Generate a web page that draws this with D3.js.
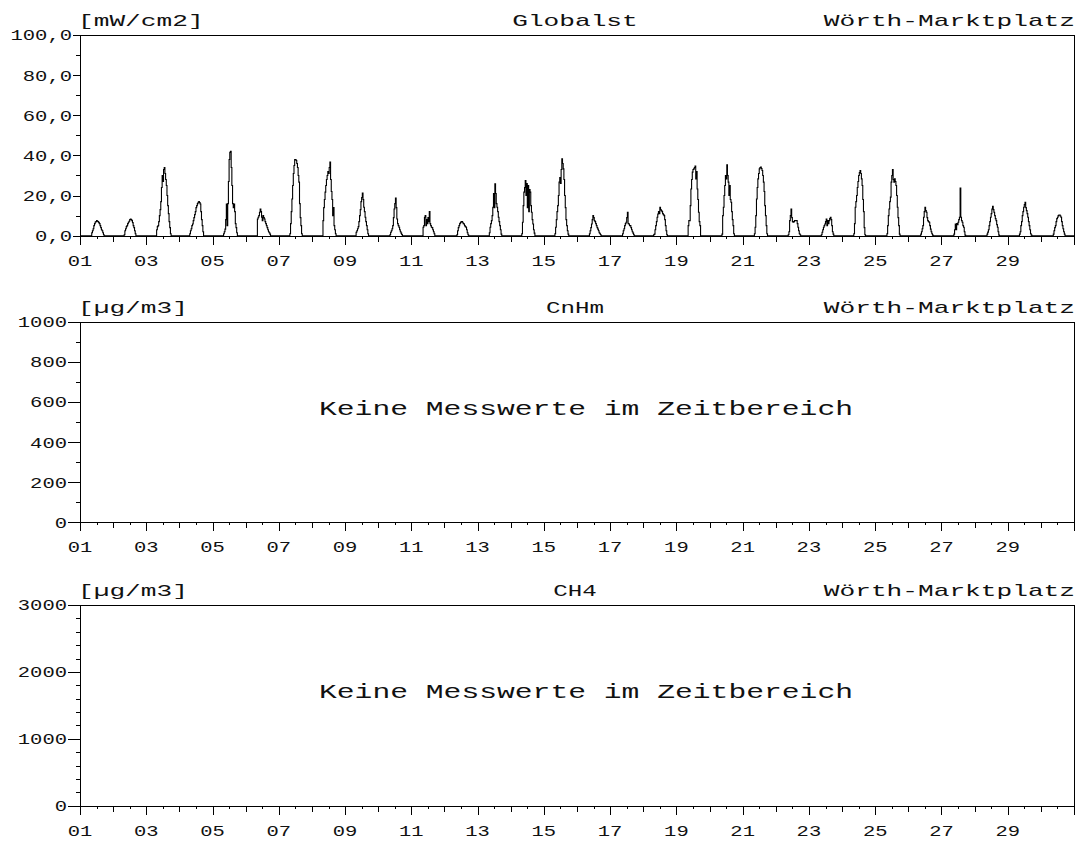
<!DOCTYPE html>
<html>
<head>
<meta charset="utf-8">
<script src="https://cdn.jsdelivr.net/npm/d3@7/dist/d3.min.js"></script>
<style>
  html, body { margin: 0; padding: 0; background: #fff; }
  svg { display: block; }
  text { font-family: "Liberation Mono", "DejaVu Sans Mono", monospace; fill: #111; }
</style>
</head>
<body>
<svg id="chart" width="1081" height="846"></svg>
<script>
// Day-of-month labels on the time axis (every second day)
const dayLabels = ["01","03","05","07","09","11","13","15","17","19","21","23","25","27","29"];
const daysInMonth = 30;
const station = "Wörth-Marktplatz";
const noDataText = "Keine Messwerte im Zeitbereich";

// Panel titles, units and value ranges
const titles = ["Globalst", "CnHm", "CH4"];
const units = ["[mW/cm2]", "[µg/m3]", "[µg/m3]"];
const yMax = [100, 1000, 3000];
const yMajor = [20, 200, 1000];
const yMinor = [10, 100, 200];

// Global radiation, half-hourly means in mW/cm2 from 07:30 onwards, one row per day
const globalStartHour = 7.5;
const globalst = [
  [0,0,1.5,2.5,3.5,5,6,6.8,7,7.5,7.2,7,6.5,6,5,4,3,2.5,1.5,0.5,0,0],
  [0,0.5,2.5,3.5,4.5,5,6,6.7,7.2,8,8.3,8,7.5,6.5,5,4,2.5,1,0,0,0,0],
  [3,4.5,5,7,10,13,17,24,30,27,33,34,31,28,25,20,15,11,7,4,1,0],
  [1,2.5,3.5,5,5.8,7.5,9,10.5,12,14,15,16,16.7,17,16.5,15.8,12,8,5,2,0,0],
  [0,1,2,3.3,8,15.8,5,16,27,38,41.5,42,34,25,16,14,15.8,12,6,4,1.5,0],
  [0,0,8.3,9.2,10,11.7,13.3,12,9.2,7.5,10,9,8.3,7,6,5,4,3,2,1.5,0.8,0],
  [0,1,6,12,18.3,25,31,35,38,38,37.5,36,34,30,26.7,16,9,5,1,0,0,0],
  [0,7.5,14,18,21.7,25,28,30,32,31,34,36.7,28,22,18,10,14,5,3,1,0,0],
  [0,1.7,2.5,3.5,4.5,7,10,13,17,19,21.3,18,14.2,12,9.2,7,5,3,1,0,0,0],
  [0,0,0.5,1.7,2.5,3.5,5,9,13.3,16,18.7,14,8.3,6,5,4.2,3,2,1.3,0.6,0,0],
  [0,0,4.2,5,9.2,10,5,8,6,9,7,12,6,5,4.2,4,3,2,1,0,0,0],
  [0,0,0,0.5,2.5,4,5,6,6.5,7,7,6.7,6,5.8,5,4.5,4.2,3,1.5,0.5,0,0],
  [0,0,1.5,4.2,6,7.5,10,14.2,21,14,25.8,21,16,14.2,12,9.2,7,5,3,0.8,0,0],
  [0,1,6.7,15,21.7,24,27.5,20,26,14,25,12,23,21.7,15,11.7,8,5.8,3,1.3,0,0],
  [0,1,4.2,8,12,15,20,26.7,29,26,33,38.3,36,33.3,28,20,14,8,5,2.5,0.8,0],
  [0,0,0,1,2.5,4,5.8,8,10,9,7.5,7,6,5,4,3.3,2.5,1.5,1,0.5,0,0],
  [0,0,0,1,2.5,3.5,5,6,6.7,9,11.7,6,5.8,5,5,4,3,2,1.3,0.5,0,0],
  [0.5,0.8,3,5,7,9.2,10.8,12,11,14.2,13,12.5,12,11,10.5,10,8,5,2.5,0.5,0,0],
  [0,0,5,7.5,7.5,15,23.3,28,31.7,33,33.3,34,34.7,28.3,32,23.3,18,11.7,7,5,0,0],
  [0,0,0,0.8,10,14.2,20,25,30,28.3,35.3,30,26.7,20,25,18,16.7,12,8,5,1,0],
  [0,0,1,4.2,10,18.3,24,28.3,31,33.3,34,34.2,33.5,32.5,30,26.7,22,15,10,5,1,0],
  [0,0,0,0.5,2,7.5,10,13.3,9,7,6.7,7,7.5,7.5,7.5,7.5,6,4.2,2.5,1,0.5,0],
  [0,0,0,0.5,1.7,3,4.2,5,5.8,7,8.3,5,7.5,6,7.5,8.5,9.2,8,5,2,0.8,0],
  [0,0,1,6,14.2,17,20,24,27,30,31.5,32.5,31,28.3,25,18,12,4,0.5,0,0,0],
  [0,0,1,5,10,13.3,17,19.2,26.7,30,33,28,26.7,28.3,27,25,20,14.2,9,5,0.8,0],
  [0,0,0,0.8,2,3.5,5,9.2,12,14.2,12.5,11.7,9,7.5,7,6.7,5,3.3,2,1,0.3,0],
  [0,0,0,0.8,3,5.8,3,6,5.5,6.7,8,9.2,23.7,9.2,7.5,6.7,5,4.2,2,0.3,0,0],
  [0,0,0,0.8,1.8,3,5,7,9.2,11,13.3,14.7,13,11.7,10,8.5,7.5,5.5,4.2,2,0.3,0],
  [0,0,0.8,2,5,7,10,12,14.2,15.5,16.7,14,12.5,11,9.2,7,5,3,1,0.3,0,0],
  [0,0,0,0.8,2.5,4,5,7,8.5,9.2,10,10.3,10.3,9.8,9.2,7,5,3.5,2,0.8,0,0]
];
const seriesData = [globalst, null, null];

// ---- layout ----
const plotLeft = 80, plotRight = 1074;
const panelTops = [35, 321.7, 605];
const panelHeight = 200.7;
const labelRight = [72, 67, 67];

const svg = d3.select("#chart");

// stretch monospace text horizontally so every character gets a fixed advance
function stretch(sel, advance) {
  sel.each(function () {
    const n = this.textContent.length;
    this.setAttribute("textLength", n * advance);
    this.setAttribute("lengthAdjust", "spacingAndGlyphs");
  });
}

const x = d3.scaleLinear().domain([0, daysInMonth]).range([plotLeft, plotRight]);

// tick every half day: odd days long, even days medium, noon short
const halfDays = d3.range(0, daysInMonth * 2 + 1).map(k => k / 2);
const fmtComma = d3.format(".1f");

panelTops.forEach((top, p) => {
  const bottom = top + panelHeight;
  const y = d3.scaleLinear().domain([0, yMax[p]]).range([bottom, top]);
  const g = svg.append("g");

  // frame
  g.append("rect")
    .attr("x", plotLeft + 0.5).attr("y", Math.round(top) + 0.5)
    .attr("width", plotRight - plotLeft)
    .attr("height", Math.round(bottom) - Math.round(top))
    .attr("fill", "none").attr("stroke", "#000").attr("stroke-width", 1);

  // y minor ticks
  g.selectAll("line.ymin")
    .data(d3.range(0, yMax[p] + 1e-9, yMinor[p]))
    .join("line")
    .attr("x1", plotLeft - 4).attr("x2", plotLeft)
    .attr("y1", d => Math.round(y(d)) + 0.5).attr("y2", d => Math.round(y(d)) + 0.5)
    .attr("stroke", "#000");

  // y major ticks and labels
  const majors = d3.range(0, yMax[p] + 1e-9, yMajor[p]);
  g.selectAll("line.ymaj")
    .data(majors)
    .join("line")
    .attr("x1", labelRight[p] + 1).attr("x2", plotLeft)
    .attr("y1", d => Math.round(y(d)) + 0.5).attr("y2", d => Math.round(y(d)) + 0.5)
    .attr("stroke", "#000");
  g.selectAll("text.ylab")
    .data(majors)
    .join("text")
    .attr("x", labelRight[p]).attr("y", d => y(d)).attr("dy", "0.36em")
    .attr("text-anchor", "end").attr("font-size", 15)
    .text(d => p === 0 ? fmtComma(d).replace(".", ",") : d)
    .call(stretch, 12.3);

  // x ticks
  g.selectAll("line.xt")
    .data(halfDays)
    .join("line")
    .attr("x1", d => Math.round(x(d)) + 0.5).attr("x2", d => Math.round(x(d)) + 0.5)
    .attr("y1", Math.round(bottom))
    .attr("y2", d => Math.round(bottom) + (d % 1 !== 0 ? 3 : (d % 2 === 0 ? 9 : 6)))
    .attr("stroke", "#000");

  // x labels
  g.selectAll("text.xlab")
    .data(dayLabels)
    .join("text")
    .attr("x", d => x(+d - 1)).attr("y", bottom + 30)
    .attr("text-anchor", "middle").attr("font-size", 15)
    .text(d => d)
    .call(stretch, 12.3);

  // header: unit, parameter, station
  g.append("text").attr("x", plotLeft - 2).attr("y", top - 9)
    .attr("font-size", 17).text(units[p]).call(stretch, 15.7);
  g.append("text").attr("x", 575).attr("y", top - 9)
    .attr("text-anchor", "middle").attr("font-size", 17).text(titles[p])
    .call(stretch, p === 0 ? 15.7 : 14.5);
  g.append("text").attr("x", plotRight + 1).attr("y", top - 9)
    .attr("text-anchor", "end").attr("font-size", 17).text(station).call(stretch, 15.7);

  const rows = seriesData[p];
  if (rows) {
    const pts = [[0, 0]];
    rows.forEach((row, d) => {
      row.forEach((v, i) => pts.push([d + (globalStartHour + 0.5 * i) / 24, v]));
      pts.push([d + (globalStartHour + 0.5 * row.length) / 24, 0]);
    });
    pts.push([daysInMonth, 0]);
    const line = d3.line()
      .x(d => x(d[0]))
      .y(d => y(d[1]))
      .curve(d3.curveStepAfter);
    g.append("path")
      .datum(pts)
      .attr("d", line)
      .attr("fill", "none")
      .attr("stroke", "#000")
      .attr("stroke-width", 1.1);
  } else {
    g.append("text")
      .attr("x", 586).attr("y", top + 86).attr("dy", "0.35em")
      .attr("text-anchor", "middle").attr("font-size", 21)
      .text(noDataText).call(stretch, 17.8);
  }
});
</script>
</body>
</html>
